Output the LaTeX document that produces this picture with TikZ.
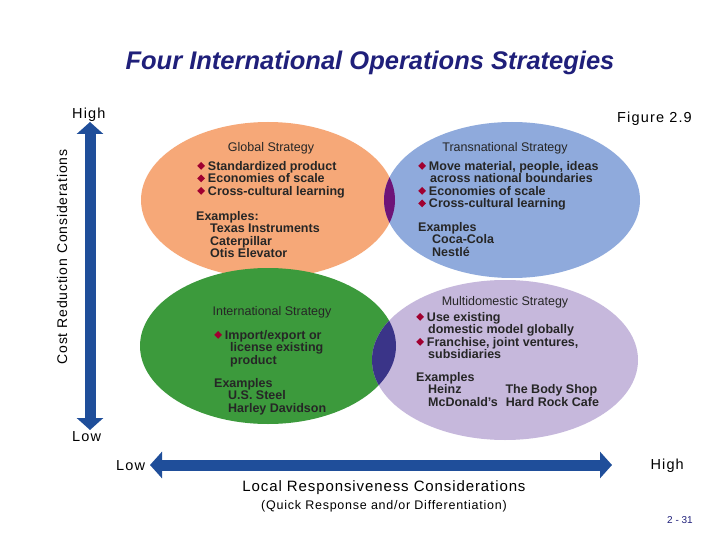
\documentclass[tikz,border=0pt]{standalone}
\usepackage{fontspec}
\setmainfont{Liberation Sans}
\usetikzlibrary{arrows.meta}
\definecolor{navy}{HTML}{1F1F7A}
\definecolor{orng}{HTML}{F6A878}
\definecolor{lblue}{HTML}{8FAADC}
\definecolor{grn}{HTML}{3C9A3C}
\definecolor{lav}{HTML}{C6B8DC}
\definecolor{purp}{HTML}{6E1478}
\definecolor{dblue}{HTML}{3A3488}
\definecolor{arr}{HTML}{1F4E9A}
\definecolor{bul}{HTML}{A00030}
\newcommand{\bu}{\textcolor{bul}{\raisebox{0.5pt}{\rotatebox{45}{\rule{5.5pt}{5.5pt}}}}\hspace{3pt}}
\begin{document}
\begin{tikzpicture}[x=1pt,y=-1pt,
  txt/.style={font=\fontsize{12.5}{12.5}\selectfont\bfseries, text=black!85, inner sep=0pt, align=left, anchor=north west},
  hd/.style={font=\fontsize{12.5}{12.5}\selectfont, text=black!85, inner sep=0pt},
  ax/.style={font=\addfontfeatures{LetterSpace=8}\fontsize{14.5}{14.5}\selectfont}]
\useasboundingbox (0,0) rectangle (720,540);
\fill[white] (0,0) rectangle (720,540);
% ellipses
\fill[orng] (268,200) ellipse [x radius=127, y radius=78];
\fill[lblue] (512,200) ellipse [x radius=128, y radius=78];
\fill[grn] (268,346) ellipse [x radius=128, y radius=78];
\fill[lav] (505,360) ellipse [x radius=133, y radius=80];
\begin{scope}
\clip (268,200) ellipse [x radius=127, y radius=78];
\fill[purp] (512,200) ellipse [x radius=128, y radius=78];
\end{scope}
\begin{scope}
\clip (268,346) ellipse [x radius=128, y radius=78];
\fill[dblue] (505,360) ellipse [x radius=133, y radius=80];
\end{scope}
\node[font=\fontsize{25.5}{26}\selectfont\bfseries\itshape, text=navy] (title) at (370,63) {Four International Operations Strategies};
\node[ax, anchor=west, inner sep=0pt] (high) at (72,115) {High};
\node[ax, anchor=east, inner sep=0pt] (fig) at (692,119) {Figure 2.9};
\node[ax, anchor=west, inner sep=0pt] (low) at (72,437) {Low};
\node[ax, anchor=west, inner sep=0pt] (low2) at (116,466) {Low};
\node[ax, anchor=east, inner sep=0pt] (high2) at (684,466) {High};
\node[font=\addfontfeatures{LetterSpace=6}\fontsize{14}{14}\selectfont, rotate=90] (yl) at (62,257) {Cost Reduction Considerations};
\node[font=\addfontfeatures{LetterSpace=6}\fontsize{15}{15}\selectfont] (xl) at (384,488) {Local Responsiveness Considerations};
\node[font=\addfontfeatures{LetterSpace=6}\fontsize{12.5}{12.5}\selectfont] (xl2) at (384,506) {(Quick Response and/or Differentiation)};
\node[font=\fontsize{10}{10}\selectfont, text=navy] (pg) at (680,520) {2 - 31};
% arrows
\coordinate (vt) at (90,122); \coordinate (vb) at (90,430);
\draw[arr, line width=11pt, -{Triangle[length=12pt,width=26pt]}] (90,265) -- (vt);
\draw[arr, line width=11pt, -{Triangle[length=12pt,width=26pt]}] (90,265) -- (vb);
\coordinate (hl) at (150,465); \coordinate (hr) at (612,465);
\draw[arr, line width=11pt, -{Triangle[length=12pt,width=26pt]}] (380,465) -- (hl);
\draw[arr, line width=11pt, -{Triangle[length=12pt,width=26pt]}] (380,465) -- (hr);
% texts
\node[hd] (g) at (271,148) {Global Strategy};
\node[txt] (g1) at (197,161) {\bu Standardized product\\\bu Economies of scale\\\bu Cross-cultural learning};
\node[txt] (g2) at (196,211) {Examples:\\\hspace{14pt}Texas Instruments\\\hspace{14pt}Caterpillar\\\hspace{14pt}Otis Elevator};
\node[hd] (t) at (505,148) {Transnational Strategy};
\node[txt] (t1) at (418,161) {\bu Move material, people, ideas\\\hspace{12pt}across national boundaries\\\bu Economies of scale\\\bu Cross-cultural learning};
\node[txt] (t2) at (418,222) {Examples\\\hspace{14pt}Coca-Cola\\\hspace{14pt}Nestl\'e};
\node[hd] (i) at (272,312) {International Strategy};
\node[txt] (i1) at (214,330) {\bu Import/export or\\\hspace{16pt}license existing\\\hspace{16pt}product};
\node[txt] (i2) at (214,378) {Examples\\\hspace{14pt}U.S. Steel\\\hspace{14pt}Harley Davidson};
\node[hd] (m) at (505,302) {Multidomestic Strategy};
\node[txt] (m1) at (416,312) {\bu Use existing\\\hspace{12pt}domestic model globally\\\bu Franchise, joint ventures,\\\hspace{12pt}subsidiaries};
\node[txt] (m2) at (416,372) {Examples\\\hspace{12pt}Heinz\hspace{44pt}The Body Shop\\\hspace{12pt}McDonald's\hspace{8pt}Hard Rock Cafe};
\end{tikzpicture}
\end{document}
